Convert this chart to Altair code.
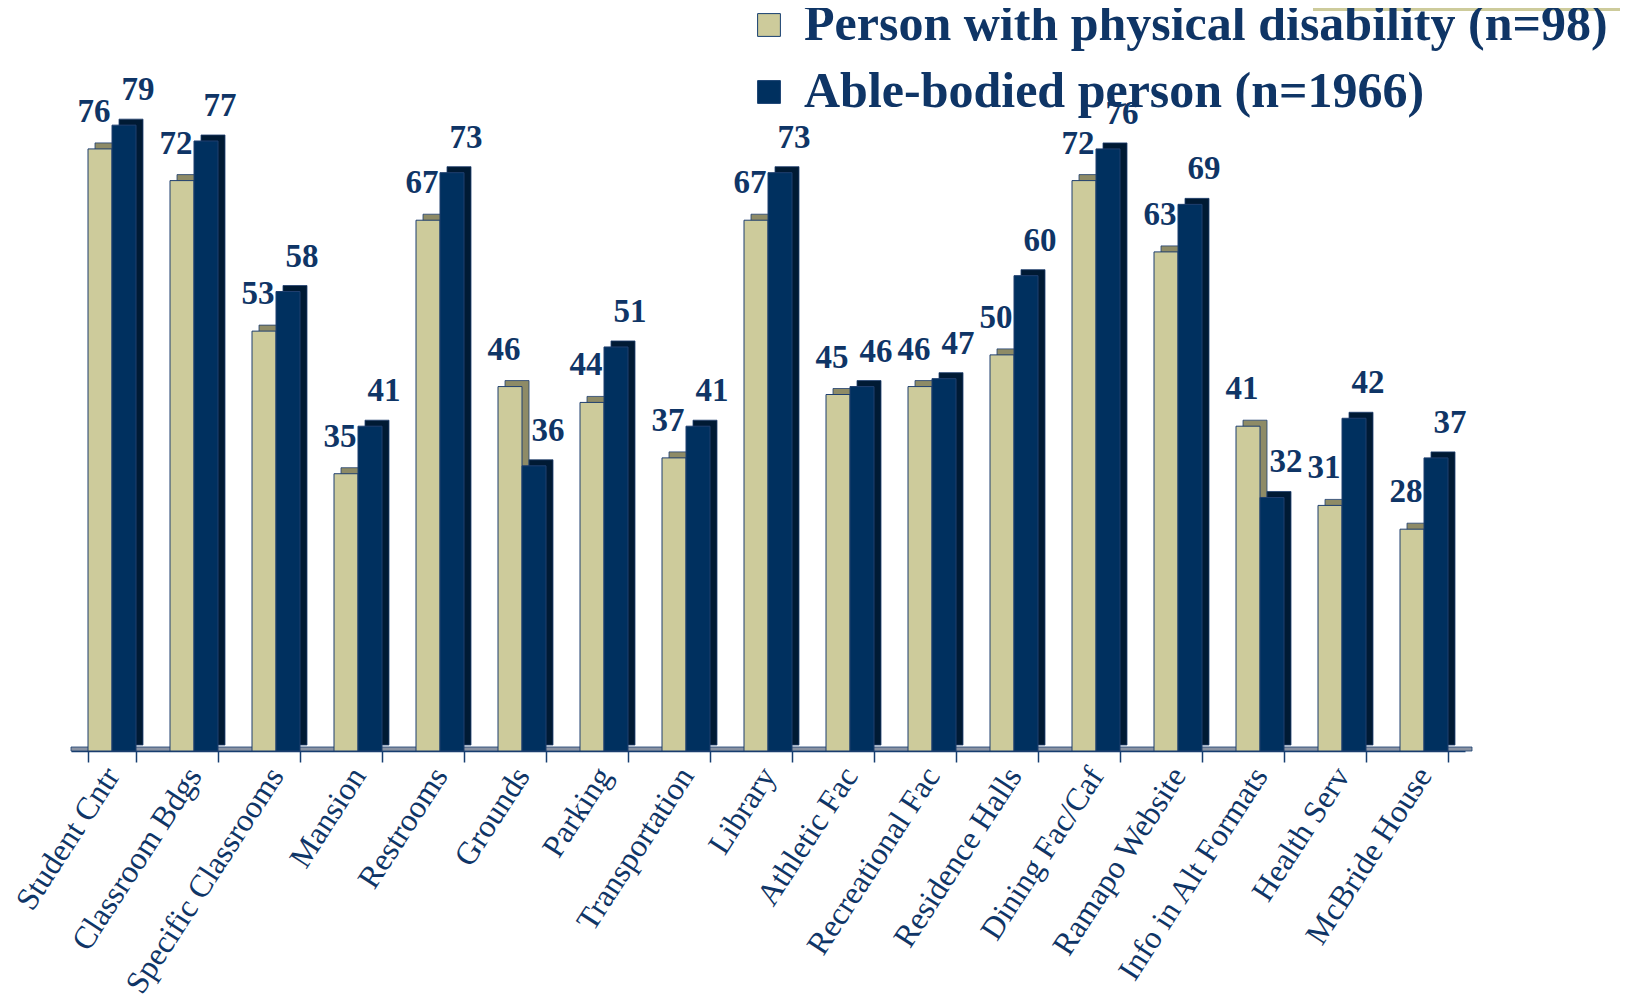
import altair as alt
import pandas as pd

categories = ["Student Cntr", "Classroom Bdgs", "Specific Classrooms", "Mansion",
              "Restrooms", "Grounds", "Parking", "Transportation", "Library",
              "Athletic Fac", "Recreational Fac", "Residence Halls", "Dining Fac/Caf",
              "Ramapo Website", "Info in Alt Formats", "Health Serv", "McBride House"]
disabled = [76, 72, 53, 35, 67, 46, 44, 37, 67, 45, 46, 50, 72, 63, 41, 31, 28]
able = [79, 77, 58, 41, 73, 36, 51, 41, 73, 46, 47, 60, 76, 69, 32, 42, 37]
series = ["Person with physical disability (n=98)", "Able-bodied person (n=1966)"]
front_colors = ["#CDCB9B", "#00305F"]
depth_colors = ["#8E8B66", "#001A34"]

rows = []
for c, a, b in zip(categories, disabled, able):
    rows.append({"category": c, "series": series[0], "value": a})
    rows.append({"category": c, "series": series[1], "value": b})
df = pd.DataFrame(rows)

W, H = 1394, 713
BW = 24      # bar width in px
DX, DY = 7, -6  # 3D depth offset
NAVY = "#0F3566"

x_enc = alt.X("category:N", sort=categories,
              scale=alt.Scale(paddingInner=0.41, paddingOuter=0.205),
              axis=alt.Axis(title=None, labelAngle=-57, labelAlign="right",
                            labelBaseline="middle", labelFont="Liberation Serif",
                            labelFontSize=32, labelColor=NAVY, labelLimit=0,
                            labelPadding=8, tickBand="extent", tickSize=11,
                            tickColor="#163E70", tickWidth=1.5,
                            domainColor="#163E70", domainWidth=1.5))
y_enc = alt.Y("value:Q", scale=alt.Scale(domain=[0, 90]), axis=None)

base = alt.Chart(df).encode(x=x_enc, y=y_enc)
sA = base.transform_filter(alt.datum.series == series[0])
sB = base.transform_filter(alt.datum.series == series[1])

floor = alt.Chart(pd.DataFrame({"a": [0]})).mark_rect(
    color="#8A93A3", stroke="#163E70", strokeWidth=0.8).encode(
    x=alt.value(0), x2=alt.value(W + 7), y=alt.value(H - 4), y2=alt.value(H))

deco = alt.Chart(pd.DataFrame({"a": [0]})).mark_rect(color="#CDCB9B").encode(
    x=alt.value(1242), x2=alt.value(1549), y=alt.value(-30), y2=alt.value(-27))

depthA = sA.mark_bar(width=BW, xOffset=-BW / 2 + DX, yOffset=DY, color=depth_colors[0],
                     stroke="#1F3F6F", strokeWidth=0.8)
depthB = sB.mark_bar(width=BW, xOffset=BW / 2 + DX, yOffset=DY, color=depth_colors[1],
                     stroke="#1F3F6F", strokeWidth=0.8)

color_enc = alt.Color("series:N", sort=series,
                      scale=alt.Scale(domain=series, range=front_colors),
                      legend=alt.Legend(title=None, orient="none", legendX=673, legendY=-38,
                                        symbolType="square", symbolSize=520,
                                        symbolStrokeColor="#163E70", symbolStrokeWidth=1,
                                        labelFont="Liberation Serif", labelFontWeight="bold",
                                        labelFontSize=50, labelColor=NAVY, labelLimit=0,
                                        labelOffset=10, rowPadding=17))
frontA = sA.mark_bar(width=BW, xOffset=-BW / 2, stroke="#1F3F6F", strokeWidth=1).encode(
    color=color_enc)
frontB = sB.mark_bar(width=BW, xOffset=BW / 2, stroke="#1F3F6F", strokeWidth=1).encode(
    color=color_enc)

txt_kw = dict(font="Liberation Serif", fontWeight="bold", fontSize=33, color=NAVY,
              baseline="middle", align="center")
t1 = sA.mark_text(dx=-BW / 2 - 6, dy=-37, **txt_kw).encode(text="value:Q")
t2 = sB.mark_text(dx=BW / 2 + 14, dy=-35, **txt_kw).encode(text="value:Q")

chart = alt.layer(deco, floor, depthA, depthB, frontA, frontB, t1, t2).properties(
    width=W, height=H,
    autosize=alt.AutoSizeParams(type="none"),
    padding={"left": 63, "top": 30, "right": 160, "bottom": 243},
    background="white").configure_view(stroke=None)

chart.save("out.html", embed_options={"renderer": "svg", "actions": False})
